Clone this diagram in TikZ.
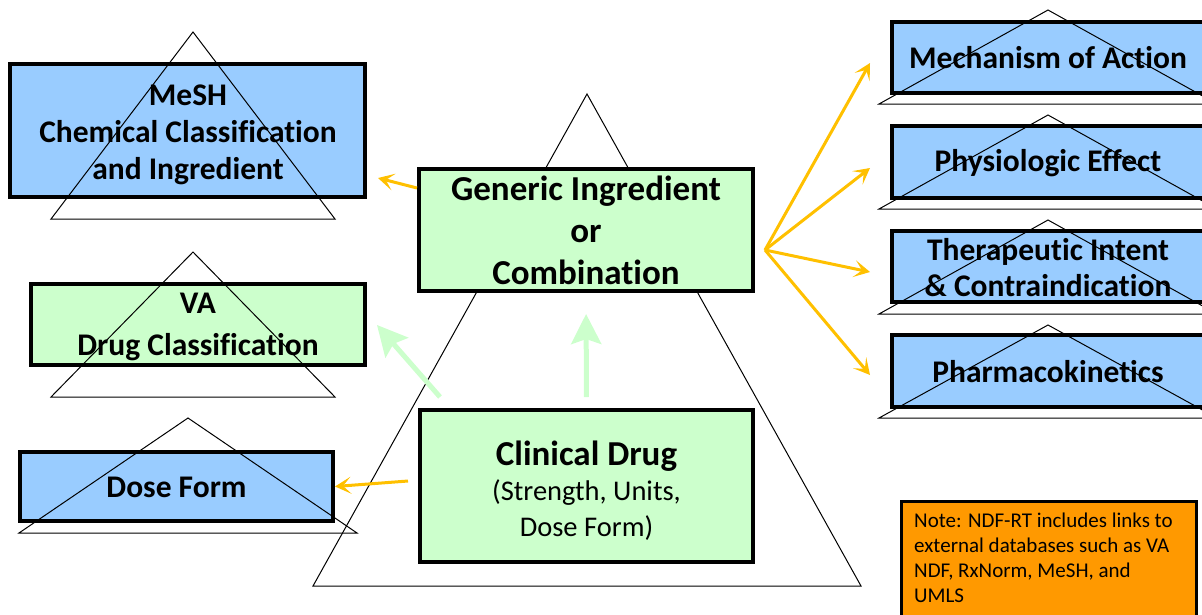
\documentclass[tikz,border=0pt]{standalone}
\usepackage{fontspec}
\setmainfont{Carlito}[Ligatures=CommonOff]
\usetikzlibrary{arrows.meta}
\definecolor{boxblue}{HTML}{99CCFF}
\definecolor{boxgreen}{HTML}{CCFFCC}
\definecolor{linkorange}{HTML}{FFC000}
\definecolor{noteorange}{HTML}{FF9900}
\tikzset{
  box/.style={draw=black, line width=4pt, inner sep=0pt, align=center,
    font=\bfseries\fontsize{35}{42}\selectfont},
  bluebox/.style={box, fill=boxblue},
  greenbox/.style={box, fill=boxgreen},
  lbl/.style={font=\bfseries\fontsize{31.5}{37}\selectfont, align=center},
  tri/.style={draw=black, line width=1pt},
  orarrow/.style={draw=linkorange, line width=3pt,
    -{Stealth[length=16pt,width=17pt,inset=8pt]}},
  grarrow/.style={draw=boxgreen, line width=5pt,
    -{Stealth[length=30pt,width=30pt,inset=5pt]}},
  notebox/.style={draw=black, line width=2.5pt, fill=noteorange},
}
\begin{document}
\begin{tikzpicture}[x=1pt,y=-1pt]
\useasboundingbox (0,0) rectangle (1202,614);
\clip (0,0) rectangle (1202,614);
% big pyramid
\draw[tri] (587,94) -- (861,586) -- (313,586) -- cycle;
% central boxes
\node[greenbox, minimum width=334, minimum height=122] (gen) at (586,230)
  {Generic Ingredient\\or\\Combination};
\node[greenbox, minimum width=333, minimum height=152] (clin) at (586.5,486) {};
\node[align=center, font=\bfseries\fontsize{35}{42}\selectfont] (clintext) at (586.5,491)
  {Clinical Drug\\[-7pt]\mdseries\fontsize{28.5}{34}\selectfont (Strength, Units,\\[-6pt]\mdseries\fontsize{28.5}{34}\selectfont Dose Form)};
% left boxes
\node[bluebox, minimum width=355, minimum height=133] (mesh) at (187.5,130.5) {};
\draw[tri] (193,32) -- (335,219) -- (51,219) -- cycle;
\node[lbl] (meshtext) at (188,135)
  {MeSH\\Chemical Classification\\and Ingredient};
\node[greenbox, minimum width=334, minimum height=81] (va) at (198,324.5) {};
\draw[tri] (193,252) -- (335,397) -- (51,397) -- cycle;
\node[lbl, font=\bfseries\fontsize{31.5}{42}\selectfont] (vatext) at (198,327)
  {VA\\Drug Classification};
\node[bluebox, minimum width=313, minimum height=69] (dose) at (176.5,486.5) {};
\draw[tri] (188,418) -- (357,533) -- (19,533) -- cycle;
\node[lbl] (dosetext) at (176.5,487) {Dose Form};
% right boxes
\node[bluebox, minimum width=312, minimum height=71] (mech) at (1048,57.5) {};
\draw[tri] (1048,10) -- (1217,104) -- (879,104) -- cycle;
\node[lbl] (mechtext) at (1048,58) {Mechanism of Action};
\node[bluebox, minimum width=312, minimum height=72] (phys) at (1048,162) {};
\draw[tri] (1048,115) -- (1217,209) -- (879,209) -- cycle;
\node[lbl] (phystext) at (1048,163) {Physiologic Effect};
\node[bluebox, minimum width=312, minimum height=71] (ther) at (1048,266.5) {};
\draw[tri] (1048,220) -- (1217,314) -- (879,314) -- cycle;
\node[lbl, font=\bfseries\fontsize{31.5}{36}\selectfont] (thertext) at (1048,268)
  {Therapeutic Intent\\\& Contraindication};
\node[bluebox, minimum width=312, minimum height=72] (pk) at (1048,371) {};
\draw[tri] (1048,325) -- (1217,418) -- (879,418) -- cycle;
\node[lbl] (pktext) at (1048,372) {Pharmacokinetics};
% note
\node[notebox, anchor=north west, minimum width=295, minimum height=150] (note) at (900,500) {};
\node[anchor=north west, align=left, inner sep=0pt, font=\fontsize{21}{25}\selectfont] (notetext)
  at ([xshift=14pt,yshift=-13pt]note.north west)
  {Note: NDF-RT includes links to\\external databases such as VA\\NDF, RxNorm, MeSH, and\\UMLS};
% connector coordinates
\coordinate (hub) at (765,250);
\coordinate (mechin) at (870,63);
\coordinate (physin) at (870,168);
\coordinate (therin) at (870,272);
\coordinate (pkin) at (870,375);
\coordinate (meshin) at (378,178);
\coordinate (vain) at (377,325);
\coordinate (clinout) at (440,397);
% connectors
\draw[orarrow] ([yshift=42pt]gen.west) -- (meshin);
\draw[orarrow] ([xshift=-10pt,yshift=5pt]clin.west) -- (dose.east);
\draw[orarrow] (hub) -- (mechin);
\draw[orarrow] (hub) -- (physin);
\draw[orarrow] (hub) -- (therin);
\draw[orarrow] (hub) -- (pkin);
\draw[grarrow, shorten <=11pt, shorten >=21pt] (clin.north) -- (gen.south);
\draw[grarrow] (clinout) -- (vain);
\end{tikzpicture}
\end{document}
